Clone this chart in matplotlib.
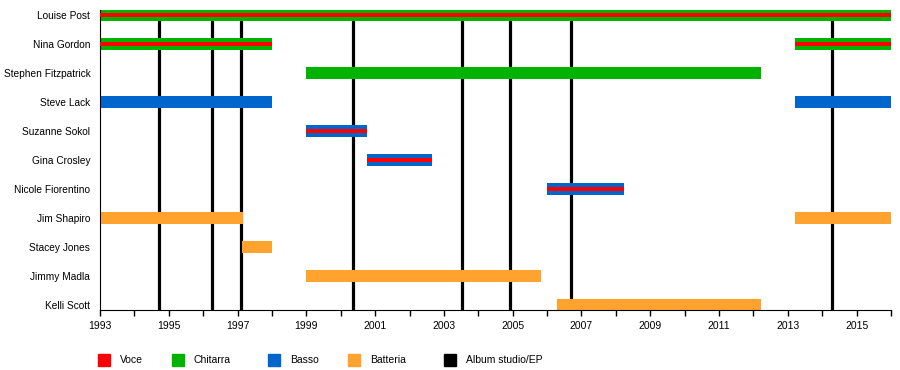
import matplotlib
matplotlib.use("Agg")
import matplotlib.pyplot as plt
from matplotlib.patches import Rectangle
from matplotlib.ticker import MultipleLocator

plt.rcParams['font.family'] = ['Liberation Sans', 'DejaVu Sans']

members = ["Louise Post", "Nina Gordon", "Stephen Fitzpatrick", "Steve Lack",
           "Suzanne Sokol", "Gina Crosley", "Nicole Fiorentino", "Jim Shapiro",
           "Stacey Jones", "Jimmy Madla", "Kelli Scott"]

# one entry per bar
bar_member = ["Louise Post", "Nina Gordon", "Nina Gordon", "Stephen Fitzpatrick",
              "Steve Lack", "Steve Lack", "Suzanne Sokol", "Gina Crosley",
              "Nicole Fiorentino", "Jim Shapiro", "Jim Shapiro", "Stacey Jones",
              "Jimmy Madla", "Kelli Scott"]
bar_start = [1993.0, 1993.0, 2013.2, 1999.0, 1993.0, 2013.2, 1999.0, 2000.75,
             2006.0, 1993.0, 2013.2, 1997.13, 1999.0, 2006.3]
bar_end = [2016.0, 1998.0, 2016.0, 2012.22, 1998.0, 2016.0, 2000.75, 2002.66,
           2008.23, 1997.16, 2016.0, 1998.0, 2005.83, 2012.22]
bar_role = ["Chitarra", "Chitarra", "Chitarra", "Chitarra", "Basso", "Basso",
            "Basso", "Basso", "Basso", "Batteria", "Batteria", "Batteria",
            "Batteria", "Batteria"]
bar_voice = [True, True, True, False, False, False, True, True, True,
             False, False, False, False, False]

albums = [1994.72, 1996.26, 1997.10, 2000.37, 2003.52, 2004.91, 2006.69, 2014.28]

year_labels = list(range(1993, 2016, 2))

colors = {"Voce": "#ff0000", "Chitarra": "#00b300", "Basso": "#0066cc",
          "Batteria": "#ffa22e", "Album studio/EP": "#000000"}

fig = plt.figure(figsize=(9, 3.7), dpi=100)
ax = fig.add_axes([100 / 900, 60 / 370, 791 / 900, 300 / 370])

row = {m: i for i, m in enumerate(members)}

for x in albums:
    ax.axvline(x, color="black", lw=2.3, zorder=1)

for m, s, e, r, v in zip(bar_member, bar_start, bar_end, bar_role, bar_voice):
    y = row[m]
    ax.barh(y, e - s, left=s, height=0.38, color=colors[r], zorder=2)
    if v:
        ax.barh(y, e - s, left=s, height=0.14, color=colors["Voce"], zorder=3)

ax.set_xlim(1993, 2016)
ax.set_ylim(10 + 5 / 29, -5 / 29)
ax.set_xticks(year_labels)
ax.xaxis.set_minor_locator(MultipleLocator(1))
ax.tick_params(axis='x', which='both', length=4, width=1, labelsize=7.5, pad=4)
ax.set_yticks(range(len(members)))
ax.set_yticklabels(members, fontsize=7.3)
ax.tick_params(axis='y', length=0, pad=7)
for side in ["top", "right"]:
    ax.spines[side].set_visible(False)

# legend along the bottom
legend_x = [98, 172, 268, 348, 444]
for px, name in zip(legend_x, ["Voce", "Chitarra", "Basso", "Batteria", "Album studio/EP"]):
    fig.patches.append(Rectangle((px / 900, (370 - 366) / 370), 12 / 900, 12 / 370,
                                 transform=fig.transFigure, color=colors[name]))
    fig.text((px + 22) / 900, (370 - 360) / 370, name, fontsize=7.5, va="center")

fig.savefig("out.png", dpi=100)
